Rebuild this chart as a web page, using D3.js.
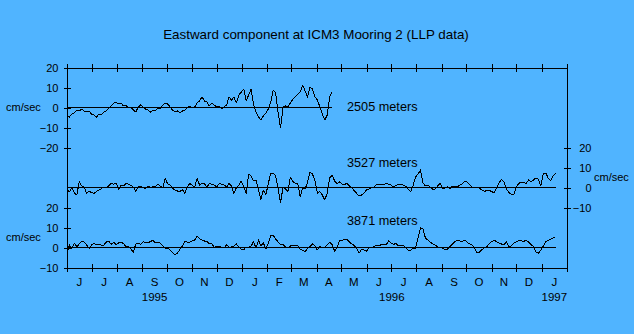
<!DOCTYPE html>
<html><head><meta charset="utf-8">
<script src="https://cdn.jsdelivr.net/npm/d3@7"></script>
<style>
html,body{margin:0;padding:0;background:#50b4ff;}
svg{display:block;}
text{font-family:"Liberation Sans",Arial,sans-serif;fill:#000;}
</style>
</head><body>
<svg id="c" width="634" height="334"></svg>
<script>
// ---------- data ----------
const titleText = "Eastward component at ICM3 Mooring 2 (LLP data)";
const startDate = "1995-06-01";
const endDate = "1997-02-01";
const stepDays = 3;
const unitLabel = "cm/sec";
const depthLabels = ["2505 meters", "3527 meters", "3871 meters"];
const monthLabels = ["J","J","A","S","O","N","D","J","F","M","A","M","J","J","A","S","O","N","D","J"];
const yearLabels = ["1995","1996","1997"];
const topTicks = [-20,-10,0,10,20];
const lowTicks = [-10,0,10,20];

const v2505 = [-4,-5,-3.5,-3,-1.5,-2,-1,-2,-2.5,-2,
 -3.5,-4,-5,-3.5,-4,-2.5,-2,-0.5,0.5,2,
 2.5,1.5,2,0.5,1,-0.5,0,-1.5,-2.5,0,
 1,0,-1,-1.5,-2.5,-1.5,-2,-0.5,-1,1,
 2,1.5,0,-1.5,-2.5,-2,-3,-2,-1.5,-0.5,
 0.5,-0.5,0,2,3,5,3,2.5,0.5,2,
 1,0,0.5,-1,0,1,5,3.5,5,2,
 6,7.5,9,3,6,9,1,-2.5,-5,-6.5,
 -4.5,-3,-1,2.5,8.5,7,-3,-10.5,0,0.5,
 0,2,4,5,6.5,7.5,11,8,5,10,
 9,5,3.5,0,-3.5,-6.5,-4,5,7.5];

const v3527 = [-1.5,-2.3,-0.5,-3,-4,2.7,0.5,0,-3.2,-2,
 -2.8,-3.2,-2.3,-1.5,-0.8,0,-0.5,0.5,1.8,1.3,
 2,-1.2,1,0.5,1.8,1.5,0.8,0,-2.3,0,
 0.5,-0.3,-0.7,0.5,-0.3,0.3,0,1.5,0.5,-0.5,
 4.3,1.5,1,-0.7,-1.5,-2,-2.3,-1.2,-3.2,0,
 1.8,0.8,0,4.3,1,2,1.5,0,1.8,1.2,
 1,0,1.8,1.3,1,0,1.8,0.5,-3.2,-0.3,
 1,3,0,-3.2,6.5,5.5,3,3.5,-1.5,-6.2,
 -1.5,-4,1.8,6.8,6.8,5.5,-1,-7.8,0,-1,
 -2.3,5,2.7,2,1.5,-4.8,-0.5,-1,2.5,7.5,
 6.5,3,-3.2,-2.3,-4,-6.5,-3,4.5,6,3,
 1.8,2.5,1.5,1.2,1.8,0.5,-0.5,-1.8,-3.2,-4.5,
 -4,-3,-1.5,-1,-0.3,0,1,1.5,1.5,1,
 1.8,1.3,1,0,0.8,1.5,1.5,1,0.3,-1,
 -2.3,0.8,5,6.5,8.5,2,0.5,1,0,-1.2,
 -1,0.5,1.8,-1,-0.5,0,-0.7,0.5,0.5,0,
 1,1.5,3,2.5,1.2,0,-0.5,-0.3,-0.5,-1.5,
 -2.2,-1.8,-1.7,-2.3,-3,-0.5,2.2,3.8,2.5,-1,
 -2.8,-3.5,-4,-0.3,1.8,2.5,2.3,1.8,3.5,2.7,
 3.5,4.5,4,0.5,6.5,7,4.5,3.2,5.5,6.8];

const v3871 = [-3.2,1,-0.7,1.8,0.2,1.5,3,2.5,1,-0.7,
 1,1.8,1,1.5,1,1,2.5,3,1.3,2.3,
 1.2,2,2.3,1.8,0,0.5,-1,-2.7,1.5,1.8,
 1.3,2.7,2,2.2,2.7,3.5,2,2.2,2,0.5,
 -0.7,-0.5,-1.5,-2.7,-4,-3,-1.2,0.5,2.7,2.5,
 2.5,3,3.5,5.5,4.2,3.5,3,2.7,1.5,1.8,
 -0.5,0.5,0.5,-0.3,-0.5,1,0,0,0.5,1.5,
 0,-1,-1.3,0,-0.3,0.5,2.7,-0.7,3.5,0.5,
 2,-1,2,5.8,5.8,4,2.5,1.2,1.3,0,
 -0.5,0.5,1,1,0.5,-1,-1.8,-2.3,-0.7,0.2,
 1.5,0.5,-1.5,0.2,-0.3,-0.5,1.2,2.5,1.2,-2,
 -0.5,3,3.2,3.8,4,2.5,1.5,0.8,-0.7,-3,
 -1.2,-1.5,-2.2,0,-0.3,0.2,1,0.5,1.2,1.5,
 1,3,2,1.3,1.8,0.5,0.7,1,-0.3,-1.5,
 -1.8,-0.5,-0.5,4.5,9.5,9,4.5,3.5,2.5,1.5,
 1,0,-0.3,-0.5,-1.5,-1,0.3,1.5,2.7,3.2,
 3,2.7,3.5,2.3,1.5,1,-0.3,-3,-2.5,-1.3,
 -0.5,0.2,1.5,2.7,3.3,2.7,2,1.5,1.2,2.5,
 0,0.5,1.8,2.7,3.2,3.2,2.7,3.5,2.5,1.2,
 0.2,-2.5,-3.2,-1.5,0.5,2.7,3.2,4,4.5,5.2];

// ---------- drawing ----------
const svg = d3.select("#c");
const t0 = new Date(startDate + "T00:00:00Z");
const t1 = new Date(endDate + "T00:00:00Z");
const x = d3.scaleUtc().domain([t0, t1]).range([67, 567]);
const yTop = d3.scaleLinear().domain([-20, 20]).range([147, 67]);
const yMid = d3.scaleLinear().domain([-10, 20]).range([207, 147]);
const yBot = d3.scaleLinear().domain([-10, 20]).range([267, 207]);
const dateAt = i => d3.utcDay.offset(t0, i * stepDays);

// title
svg.append("text").attr("x", 316).attr("y", 39).attr("text-anchor", "middle")
  .style("font-size", "13.4px").text(titleText);

const months = d3.utcMonth.range(t0, d3.utcDay.offset(t1, 1));

// bottom axis
const gB = svg.append("g").attr("transform", "translate(0,267.5)")
  .call(d3.axisBottom(x).tickValues(months).tickFormat("").tickSize(4).tickSizeOuter(0));
gB.selectAll(".tick line").attr("y1", -4).attr("y2", 4);
// top axis
const gT = svg.append("g").attr("transform", "translate(0,67.5)")
  .call(d3.axisTop(x).tickValues(months).tickFormat("").tickSize(4).tickSizeOuter(0));
gT.selectAll(".tick line").attr("y1", -4).attr("y2", 4);

// frame verticals
svg.append("line").attr("x1", 67.5).attr("x2", 67.5).attr("y1", yTop.range()[1]).attr("y2", yBot.range()[0] + 1)
  .attr("stroke", "#000");
svg.append("line").attr("x1", 567.5).attr("x2", 567.5).attr("y1", yTop.range()[1]).attr("y2", yBot.range()[0] + 1)
  .attr("stroke", "#000");

// left axes
function leftAxis(scale, ticks) {
  const g = svg.append("g").attr("transform", "translate(67.5,0.5)")
    .call(d3.axisLeft(scale).tickValues(ticks).tickFormat(d3.format("d")).tickSize(3).tickPadding(6));
  g.select(".domain").remove();
  g.selectAll(".tick line").attr("x1", 3).attr("x2", -3.5);
  g.selectAll(".tick text").style("font-size", "11px");
  return g;
}
leftAxis(yTop, topTicks);
leftAxis(yBot, lowTicks);

// right axis
const gR = svg.append("g").attr("transform", "translate(567.5,0.5)")
  .call(d3.axisRight(yMid).tickValues(lowTicks).tickFormat(d3.format("d")).tickSize(3));
gR.select(".domain").remove();
gR.selectAll(".tick line").attr("x1", -3.5).attr("x2", 3);
gR.selectAll(".tick text").attr("x", 24).attr("text-anchor", "end").style("font-size", "11px");
svg.selectAll("g").attr("font-family", null);

// unit labels
svg.append("text").attr("x", 6).attr("y", yTop(0) + 3.5).style("font-size", "11px").text(unitLabel);
svg.append("text").attr("x", 6).attr("y", yBot(5) + 4).style("font-size", "11px").text(unitLabel);
svg.append("text").attr("x", 594).attr("y", yMid(5) + 4).style("font-size", "11px").text(unitLabel);

// month labels
monthLabels.forEach((m, i) => {
  const cx = (x(months[i]) + x(months[i + 1])) / 2;
  svg.append("text").attr("x", cx).attr("y", 285.5).attr("text-anchor", "middle")
    .style("font-size", "11.5px").text(m);
});
// year labels
yearLabels.forEach(yl => {
  const a = new Date(Math.max(t0, new Date(yl + "-01-01T00:00:00Z")));
  const b = new Date(Math.min(t1, new Date((+yl + 1) + "-01-01T00:00:00Z")));
  svg.append("text").attr("x", (x(a) + x(b)) / 2).attr("y", 301).attr("text-anchor", "middle")
    .style("font-size", "11.5px").text(yl);
});

// series
const series = [
  {vals: v2505, y: yTop, label: depthLabels[0], ly: 111},
  {vals: v3527, y: yMid, label: depthLabels[1], ly: 166.5},
  {vals: v3871, y: yBot, label: depthLabels[2], ly: 224.5}
];
series.forEach(s => {
  const last = dateAt(s.vals.length - 1);
  svg.append("line").attr("x1", x(t0)).attr("x2", x(last))
    .attr("y1", Math.round(s.y(0)) + 0.5).attr("y2", Math.round(s.y(0)) + 0.5)
    .attr("stroke", "#000").attr("shape-rendering", "crispEdges");
  const line = d3.line().x((d, i) => x(dateAt(i))).y(d => s.y(d));
  svg.append("path").datum(s.vals).attr("d", line).attr("fill", "none")
    .attr("stroke", "#000").attr("stroke-width", 1).attr("stroke-linejoin", "round")
    .attr("shape-rendering", "crispEdges");
  svg.append("text").attr("x", 347).attr("y", s.ly).style("font-size", "12.7px").text(s.label);
});
svg.selectAll("g path.domain, g line").attr("shape-rendering", "crispEdges");
</script>
</body></html>
